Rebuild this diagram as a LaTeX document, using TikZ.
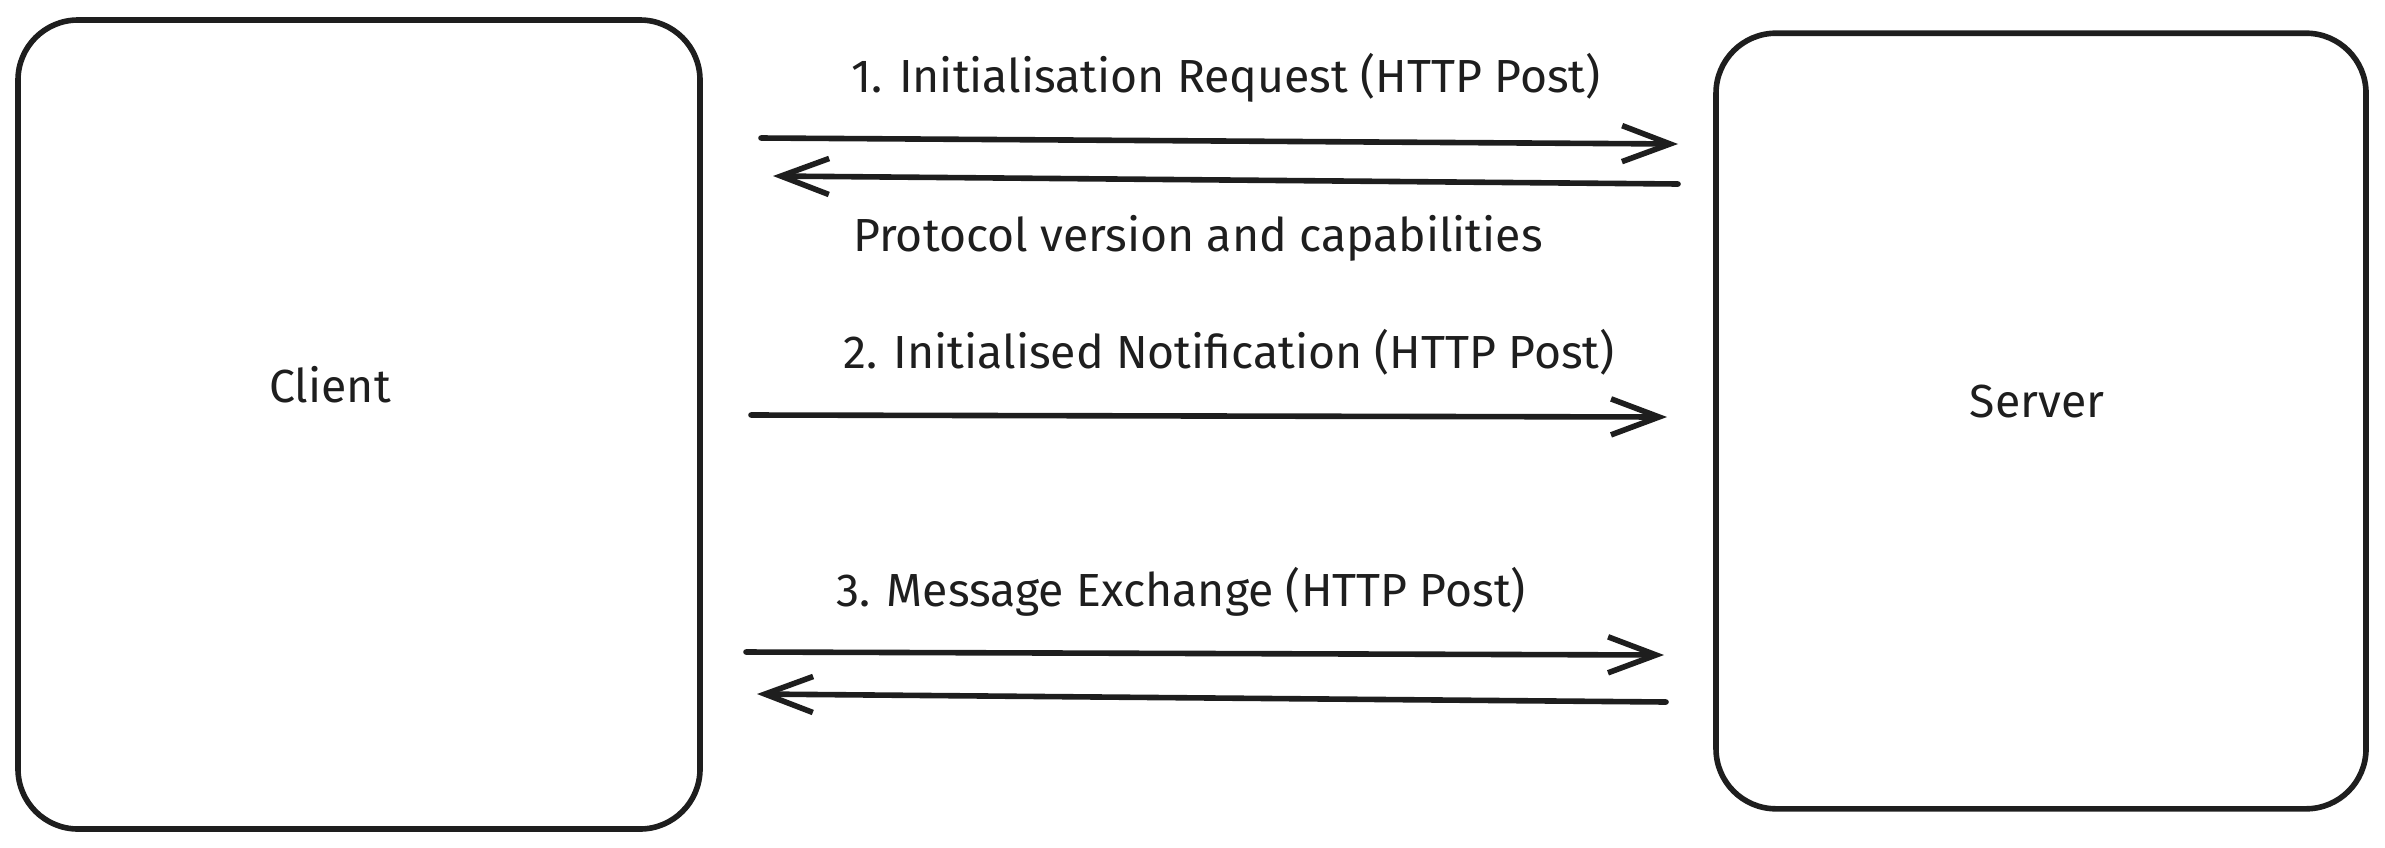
\documentclass[tikz,border=0pt]{standalone}
\usepackage{fontspec}
\setmainfont{Fira Sans}
\usetikzlibrary{positioning,arrows.meta}
\definecolor{ink}{HTML}{1E1E1E}

\begin{document}
\begin{tikzpicture}[x=0.25pt,y=-0.25pt,
    party/.style={draw=ink, line width=1.4pt, rounded corners=15pt, inner sep=0pt},
    msg/.style={draw=ink, line width=1.4pt, line cap=round,
      -{Straight Barb[length=12pt,width=9pt,line width=1.4pt]}},
    lbl/.style={text=ink, font=\fontsize{11.6}{14}\selectfont}]
    \useasboundingbox (0,0) rectangle (2385,847);

    % the two parties
    \node[party, minimum width=170.5pt, minimum height=202.25pt] (client) at (359,424.5) {};
    \node[party, minimum width=162.5pt, minimum height=193.9pt] (server) at (2041,421) {};
    \node[lbl] (clientlbl) at (330,385) {Client};
    \node[lbl] (serverlbl) at (2037,402) {Server};

    % end points of the messages
    \coordinate (req s) at (761,138);  \coordinate (req e) at (1678,144);
    \coordinate (cap s) at (1678,184); \coordinate (cap e) at (773,176);
    \coordinate (ntf s) at (751,415);  \coordinate (ntf e) at (1667,417);
    \coordinate (exc s) at (746,652);  \coordinate (exc e) at (1664,655);
    \coordinate (rsp s) at (1666,702); \coordinate (rsp e) at (757,694);

    % messages
    \draw[msg] (req s) -- (req e);
    \draw[msg] (cap s) -- (cap e);
    \draw[msg] (ntf s) -- (ntf e);
    \draw[msg] (exc s) -- (exc e);
    \draw[msg] (rsp s) -- (rsp e);

    % and their labels
    \node[lbl] (reqlbl) at (1226,78) {1. Initialisation Request (HTTP Post)};
    \node[lbl] (caplbl) at (1198,238) {Protocol version and capabilities};
    \node[lbl] (ntflbl) at (1229,352) {2. Initialised Notification (HTTP Post)};
    \node[lbl] (exclbl) at (1181,592) {3. Message Exchange (HTTP Post)};

\end{tikzpicture}
\end{document}
